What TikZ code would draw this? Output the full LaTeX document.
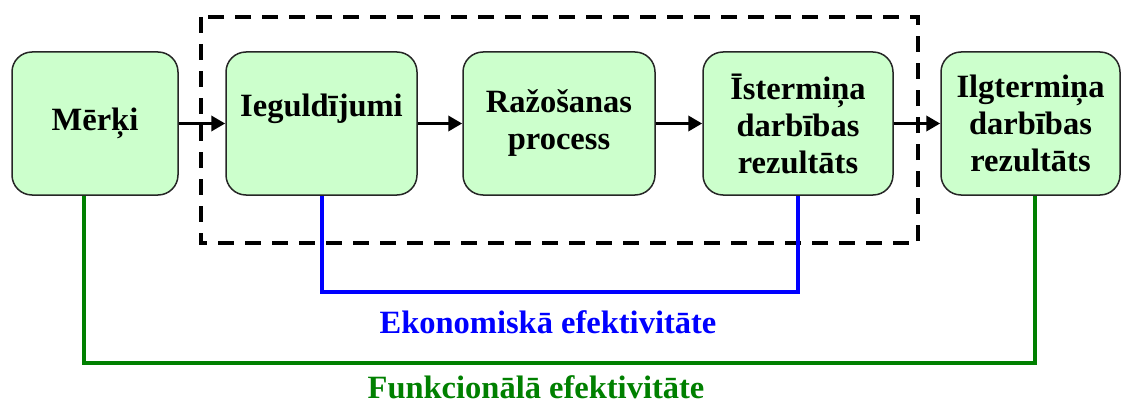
\documentclass[tikz,border=0pt]{standalone}
\usepackage{fontspec}
\setmainfont{Liberation Serif}
\usepackage{tikz}
\usetikzlibrary{arrows.meta}

\definecolor{gaiszals}{HTML}{CCFFCC}
\definecolor{tumszals}{HTML}{008000}

\begin{document}
\begin{tikzpicture}[x=1pt, y=-1pt,
  bloks/.style={draw=black!85, line width=1.5pt, fill=gaiszals, rounded corners=20pt,
    minimum height=143pt, inner sep=0pt, align=center,
    font=\fontsize{32.5}{37}\selectfont\bfseries},
  bulta/.style={line width=3.5pt, -{Triangle[length=14pt, width=15pt]}},
  uzraksts/.style={font=\fontsize{32.5}{37}\selectfont\bfseries}]

\useasboundingbox (0,0) rectangle (1121,404);

\draw [line width=4.5pt, dash pattern=on 16pt off 11pt] (201,17) rectangle (918,243);

\node [bloks, minimum width=166pt] (merki) at (95,123.5) {Mērķi};
\node [bloks, minimum width=191pt] (ieg) at (321.5,123.5) {Ieguldījumi\\{}};
\node [bloks, minimum width=192pt] (raz) at (559,123.5) {Ražošanas\\process};
\node [bloks, minimum width=190pt] (ist) at (798,123.5) {Īstermiņa\\darbības\\rezultāts};
\node [bloks, minimum width=179pt] (ilg) at (1030.5,123.5) {Ilgtermiņa\\darbības\\rezultāts};

\draw [bulta] (merki) -- (ieg);
\draw [bulta] (ieg) -- (raz);
\draw [bulta] (raz) -- (ist);
\draw [bulta] (ist) -- (ilg);

\draw [line width=4pt, color=blue] (ieg.south) -- ++(0,96) -| (ist.south);
\draw [line width=4pt, color=tumszals]
  ([xshift=-11pt]merki.south) -- ++(0,167) -| ([xshift=4.5pt]ilg.south);

\node [uzraksts, text=blue] (ekon) at (548,322) {Ekonomiskā efektivitāte};
\node [uzraksts, text=tumszals] (funk) at (536,387) {Funkcionālā efektivitāte};
\end{tikzpicture}
\end{document}
